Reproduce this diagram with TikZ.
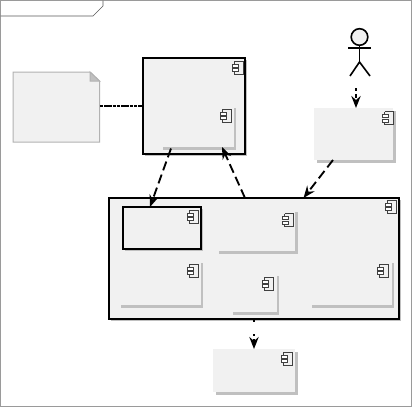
\documentclass[tikz,border=0pt]{standalone}
\usetikzlibrary{arrows.meta,calc}
\definecolor{boxfill}{HTML}{F1F1F1}
\definecolor{shade}{HTML}{C0C0C0}
\definecolor{framec}{HTML}{9A9A9A}
\tikzset{
  x=0.75pt,y=-0.75pt,
  frameline/.style={draw=framec,line width=0.75pt},
  tabline/.style={draw=black!65,line width=0.5pt},
  plainbox/.style={fill=boxfill,draw=none,inner sep=0pt,anchor=north west},
  boldbox/.style={fill=boxfill,draw=black,line width=1.7pt,inner sep=0pt,anchor=north west},
  notebox/.style={draw=black!30,line width=0.75pt},
  shadowfill/.style={fill=shade,draw=none},
  dep/.style={draw=black,line width=1.4pt,dash pattern=on 7pt off 3.4pt,-{Stealth[length=9pt,width=7pt,inset=3pt]}},
  link/.style={draw=black,line width=1.4pt,dash pattern=on 2.6pt off 0.6pt},
  iconline/.style={draw=black!75,line width=0.5pt},
  actorline/.style={draw=black,line width=1.2pt},
}
% \compbox{name}{x1}{y1}{x2}{y2}{style}{shadow offset}
\newcommand{\compbox}[7]{%
  \fill[shadowfill] (#2+#7,#3+#7) rectangle (#4+#7,#5+#7);
  \path let \p1=($(#4,#5)-(#2,#3)$) in
    node[#6,minimum width=\x1,minimum height=-\y1,outer sep=0pt] (#1) at (#2,#3) {};
}
% \compicon{x}{y}: icon position
\newcommand{\compicon}[2]{%
  \begin{scope}[shift={(#1,#2)}]
    \draw[iconline] (-3.5,-6.5) -- (5,-6.5) -- (5,6.5) -- (-3.5,6.5) -- (-3.5,4);
    \draw[iconline] (-3.5,-3.5) -- (-3.5,-6.5);
    \draw[iconline,fill=white] (-6,-3.5) rectangle (0.5,-0.6);
    \draw[iconline,fill=white] (-6,1) rectangle (0.5,4);
  \end{scope}}
\begin{document}
\begin{tikzpicture}
\useasboundingbox (0,0) rectangle (413,407);
\fill[white] (0,0) rectangle (413,407);
% frame
\draw[frameline] (0.5,406) -- (0.5,0.5) -- (411.5,0.5) -- (411.5,406) -- cycle;
\draw[tabline] (0.5,16) -- (93,16) -- (103,6) -- (103,0.5);
% note
\path[fill=boxfill,notebox] (13,72) -- (90,72) -- (99.5,81) -- (99.5,142) -- (13,142) -- cycle;
\path[fill=shade,notebox] (90,72) -- (99.5,81) -- (90,81) -- cycle;
\node[inner sep=0pt,minimum size=0pt] (note) at (99.5,106) {};
% upper system
\compbox{sys}{143}{58}{245}{154}{boldbox}{2}
\fill[shadowfill] (163,147) rectangle (236,150);
\fill[shadowfill] (233.5,108) rectangle (236,150);
\compicon{238}{67.5}
\compicon{226}{115.5}
% actor
\draw[actorline,fill=boxfill] (359.5,37) circle (8.3);
\node[inner sep=0pt,minimum size=0pt] (actor) at (356,88) {};
\draw[actorline] (359.5,45) -- (359.5,62);
\draw[actorline] (348,48) -- (371,48);
\draw[actorline] (350,76) -- (359.5,62) -- (370,76);
% web
\compbox{web}{314}{108}{393}{160}{plainbox}{3}
\compicon{388}{118}
% big box
\compbox{big}{109}{198}{399}{319}{boldbox}{2}
\compicon{391}{206.5}
\compbox{inner}{123}{207}{201}{249}{boldbox}{1.5}
\compicon{193}{216.5}
\fill[shadowfill] (219,251) rectangle (298,254);
\fill[shadowfill] (295,212) rectangle (298,254);
\compicon{288}{220}
\fill[shadowfill] (121,305) rectangle (203,307.5);
\fill[shadowfill] (200.5,263) rectangle (203,307.5);
\compicon{193}{270.5}
\fill[shadowfill] (233,312) rectangle (279,314.5);
\fill[shadowfill] (276.5,276) rectangle (279,314.5);
\compicon{268}{283.5}
\fill[shadowfill] (312,305) rectangle (394,307.5);
\fill[shadowfill] (391.5,263) rectangle (394,307.5);
\compicon{383}{270.5}
% bottom
\compbox{low}{213}{349}{295}{392}{plainbox}{3}
\compicon{287}{358.5}
% connectors
\draw[link] (note) -- ($(sys.south west)!0.5!(sys.north west)$);
\draw[dep,dash pattern=on 2.2pt off 2pt on 3pt off 20pt] (actor) -- ([xshift=2.5*0.75pt]web.north);
\draw[dep] ([xshift=-20.5*0.75pt]web.south) -- ([xshift=49.5*0.75pt]big.north);
\draw[dep] ([xshift=-9*0.75pt]big.north) -- ([xshift=28*0.75pt,yshift=7*0.75pt]sys.south);
\draw[dep] ([xshift=-23*0.75pt,yshift=7*0.75pt]sys.south) ++(0,1.5) -- ([xshift=-12*0.75pt]inner.north);
\draw[dep,dash pattern=on 2.5pt off 9pt on 1.5pt off 2pt on 3pt off 20pt] (big.south) -- (low.north);
\end{tikzpicture}
\end{document}
